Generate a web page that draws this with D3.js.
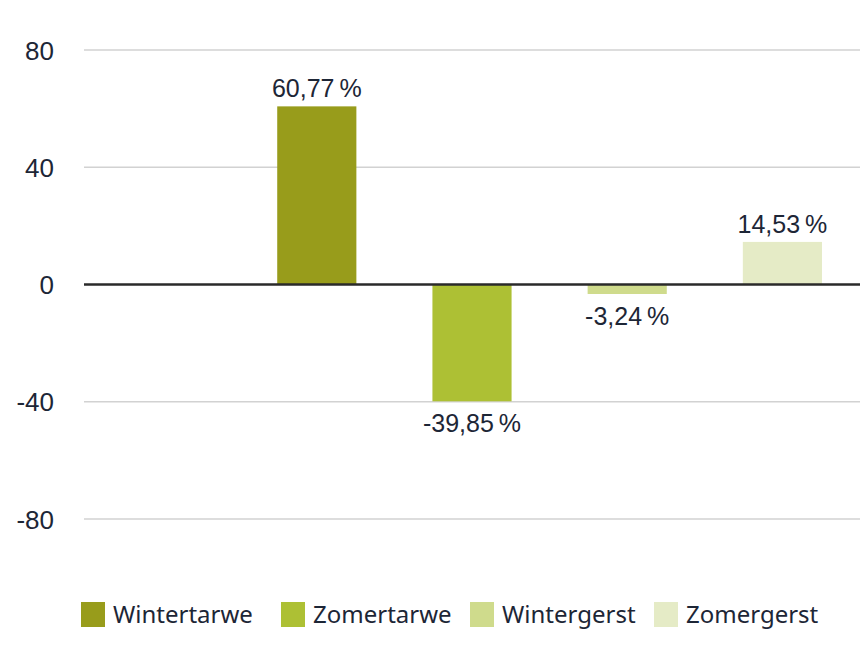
<!DOCTYPE html>
<html>
<head>
<meta charset="utf-8">
<script src="https://cdn.jsdelivr.net/npm/d3@7"></script>
<style>
  html, body { margin: 0; padding: 0; background: #ffffff; }
  svg { display: block; }
</style>
</head>
<body>
<svg id="chart" width="862" height="669"></svg>
<script>
const categories = ["", "Wintertarwe", "Zomertarwe", "Wintergerst", "Zomergerst"];
const series = ["Wintertarwe", "Zomertarwe", "Wintergerst", "Zomergerst"];
const values = [60.77, -39.85, -3.24, 14.53];
const valueLabels = ["60,77\u2009%", "-39,85\u2009%", "-3,24\u2009%", "14,53\u2009%"];
const yTicks = [80, 40, 0, -40, -80];
const colors = ["#989c1b", "#adc034", "#cfdb8c", "#e5ebc6"];

const svg = d3.select("#chart");
const textColor = "#1d2636";

const x = d3.scaleBand().domain(categories).range([84, 860]).paddingInner(0.49).paddingOuter(0.245);
const y = d3.scaleLinear().domain([-80, 80]).range([519, 50]);

// gridlines
svg.append("g").selectAll("line").data(yTicks.filter(d => d !== 0)).join("line")
  .attr("x1", 84).attr("x2", 860)
  .attr("y1", d => y(d)).attr("y2", d => y(d))
  .attr("stroke", "#d2d2d2").attr("stroke-width", 1.5);

// y axis labels
const yAxis = d3.axisLeft(y).tickValues(yTicks).tickSize(0).tickPadding(0).tickFormat(d => String(d));
const ga = svg.append("g").attr("transform", "translate(54,0)").call(yAxis);
ga.select(".domain").remove();
ga.selectAll("text")
  .attr("fill", textColor)
  .style("font-family", "'Liberation Sans', Arial, sans-serif")
  .style("font-size", "26px")
  .attr("dy", "0.35em");

// bars
const data = series.map((s, i) => ({ s, v: values[i], label: valueLabels[i], c: colors[i] }));
svg.append("g").selectAll("rect").data(data).join("rect")
  .attr("x", d => x(d.s))
  .attr("width", x.bandwidth())
  .attr("y", d => y(Math.max(0, d.v)))
  .attr("height", d => Math.abs(y(d.v) - y(0)))
  .attr("fill", d => d.c);

// zero line
svg.append("line")
  .attr("x1", 84).attr("x2", 860)
  .attr("y1", y(0)).attr("y2", y(0))
  .attr("stroke", "#2a2a2a").attr("stroke-width", 2.5);

// value labels
svg.append("g").selectAll("text").data(data).join("text")
  .attr("x", d => x(d.s) + x.bandwidth() / 2)
  .attr("y", d => d.v >= 0 ? y(d.v) - 9 : y(d.v) + 31)
  .attr("text-anchor", "middle")
  .attr("fill", textColor)
  .style("font-family", "'Liberation Sans', Arial, sans-serif")
  .style("font-size", "25px")
  .text(d => d.label);

// legend
const legendX = [81, 281, 470, 654];
const lg = svg.append("g").selectAll("g").data(data).join("g")
  .attr("transform", (d, i) => `translate(${legendX[i]},602)`);
lg.append("rect").attr("width", 24).attr("height", 25).attr("fill", d => d.c);
lg.append("text")
  .attr("x", 32).attr("y", 12.5).attr("dy", "0.36em")
  .attr("fill", textColor)
  .style("font-family", "'Noto Sans', sans-serif")
  .style("font-size", "24px")
  .text(d => d.s);
</script>
</body>
</html>
